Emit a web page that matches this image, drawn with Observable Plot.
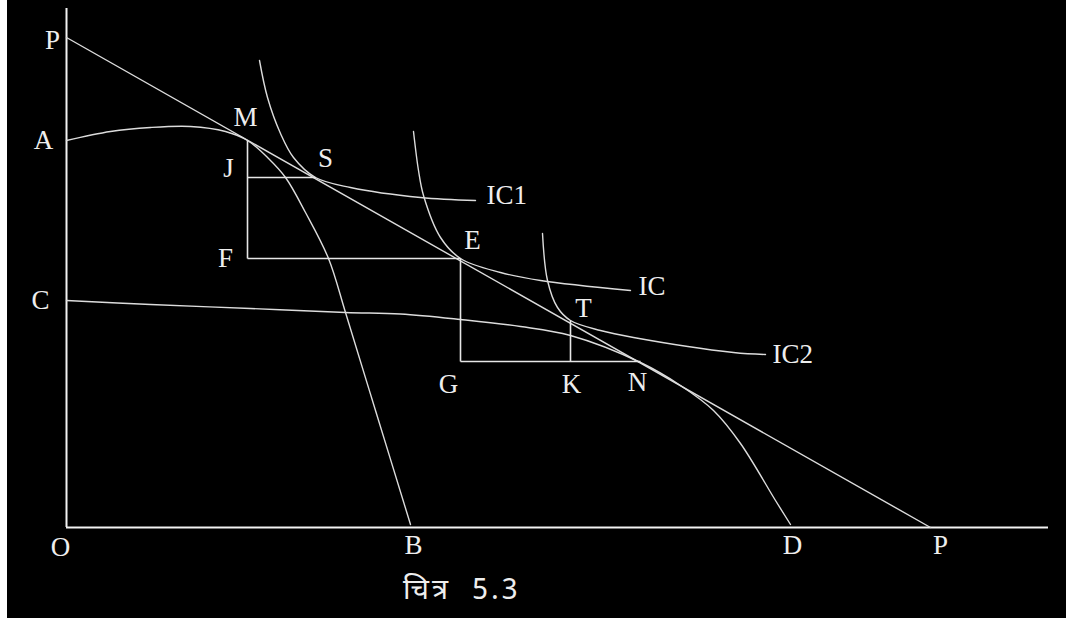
<!DOCTYPE html>
<html>
<head>
<meta charset="utf-8">
<script src="https://cdn.jsdelivr.net/npm/d3@7"></script>
<script src="https://cdn.jsdelivr.net/npm/@observablehq/plot@0.6"></script>
<style>
  html, body { margin: 0; padding: 0; background: #fff; }
  #wrap { position: absolute; left: 7px; top: 0; width: 1059px; height: 618px; background: #000; overflow: hidden; }
  #wrap svg { display: block; background: #000; }
  #cap { position: absolute; left: 396px; top: 578px; color: #eee; font-family: "Noto Sans Devanagari", "Lohit Devanagari", "Noto Sans", sans-serif; font-size: 29px; letter-spacing: 3px; line-height: 1; white-space: pre; }
</style>
</head>
<body>
<div id="wrap"><div id="chart"></div><div id="cap"></div></div>
<script>
// ---- data (in diagram units) ----
const captionText = "चित्र  5.3";

const budgetLine = [[0, 49.0], [86.4, 0]];                       // P–P
const curveAB = [[0, 38.7], [4.4, 39.6], [8.4, 40.0], [12.4, 40.1], [15.9, 39.6],
                 [18.1, 38.7], [20.2, 36.9], [21.9, 35.0], [23.9, 31.5], [26.2, 26.9],
                 [27.9, 21.5], [30.9, 11.7], [34.4, 0.3]];
const curveCD = [[0, 22.7], [8.4, 22.3], [18.4, 21.9], [27.9, 21.5], [33.4, 21.35],
                 [39.4, 20.8], [45.4, 20.1], [50.4, 19.2], [57.4, 16.5], [61.4, 14.2],
                 [64.7, 11.7], [67.4, 8.4], [70.9, 2.7], [72.4, 0.3]];
const curveIC1 = [[19.3, 46.7], [20.1, 43.0], [21.4, 39.4], [22.7, 37.0], [24.9, 35.0],
                  [28.4, 34.0], [35.4, 33.0], [40.9, 32.7]];
const curveIC = [[34.7, 39.6], [35.2, 35.7], [35.7, 33.2], [37.4, 29.0], [39.4, 26.9],
                 [43.4, 25.5], [47.4, 24.7], [56.4, 23.7]];
const curveIC2 = [[47.6, 29.4], [48.1, 24.7], [49.1, 22.0], [50.4, 20.7], [53.4, 19.7],
                  [56.7, 19.0], [66.7, 17.5], [69.9, 17.3]];
// construction segments: [x1, y1, x2, y2]
const guides = [[18.1, 38.7, 18.1, 26.9], [18.1, 35.0, 24.9, 35.0], [18.1, 26.9, 39.4, 26.9],
                [39.4, 26.9, 39.4, 16.6], [39.4, 16.6, 57.4, 16.6], [50.4, 20.7, 50.4, 16.6]];
// point labels: [text, x, y]
const pointLabels = [["P", 0, 49.0], ["A", 0, 38.7], ["C", 0, 22.7], ["M", 18.1, 38.7],
                     ["J", 18.1, 35.0], ["S", 24.9, 35.0], ["IC1", 40.9, 32.7], ["E", 39.4, 26.9],
                     ["F", 18.1, 26.9], ["IC", 56.4, 23.7], ["T", 50.4, 20.7], ["IC2", 69.9, 17.3],
                     ["G", 39.4, 16.6], ["K", 50.4, 16.6], ["N", 57.4, 16.6], ["O", 0, 0],
                     ["B", 34.4, 0], ["D", 72.4, 0], ["P", 86.4, 0]];

// ---- label placement (styling) ----
const offsets = [[-14, 3, "middle"], [-23, 0, "middle"], [-26, 0, "middle"], [-2, -23, "middle"],
                 [-19, -9, "middle"], [10, -19, "middle"], [11, -5, "start"], [12, -18, "middle"],
                 [-22, 0, "middle"], [8, -4, "start"], [13, -12, "middle"], [7, 0, "start"],
                 [-12, 23, "middle"], [1, 23, "middle"], [-3, 21, "middle"], [-6, 20, "middle"],
                 [3, 18, "middle"], [2, 18, "middle"], [10, 18, "middle"]];

const curveStyle = {x: d => d[0], y: d => d[1], stroke: "#dcdcdc", strokeWidth: 1.4, curve: "catmull-rom"};

const marks = [
  Plot.ruleX([0], {stroke: "#f2f2f2", strokeWidth: 2}),
  Plot.ruleY([0], {stroke: "#f2f2f2", strokeWidth: 2}),
  Plot.line(budgetLine, {x: d => d[0], y: d => d[1], stroke: "#dcdcdc", strokeWidth: 1.4}),
  Plot.line(curveAB, curveStyle),
  Plot.line(curveCD, curveStyle),
  Plot.line(curveIC1, curveStyle),
  Plot.line(curveIC, curveStyle),
  Plot.line(curveIC2, curveStyle),
  Plot.link(guides, {x1: d => d[0], y1: d => d[1], x2: d => d[2], y2: d => d[3], stroke: "#e6e6e6", strokeWidth: 1.6})
];
pointLabels.forEach((l, i) => {
  const [dx, dy, anchor] = offsets[i];
  marks.push(Plot.text([l], {x: d => d[1], y: d => d[2], text: d => d[0], dx, dy, textAnchor: anchor,
    fill: "#eeeeee", fontSize: 27, fontFamily: "Liberation Serif, Times New Roman, serif"}));
});

const chart = Plot.plot({
  width: 1059, height: 565,
  marginLeft: 59, marginRight: 18, marginTop: 8, marginBottom: 38,
  x: {domain: [0, 98.2], axis: null},
  y: {domain: [0, 51.9], axis: null},
  style: {background: "#000", color: "#eee", overflow: "visible"},
  marks
});
document.getElementById("chart").appendChild(chart);
document.getElementById("cap").textContent = captionText;
</script>
</body>
</html>
